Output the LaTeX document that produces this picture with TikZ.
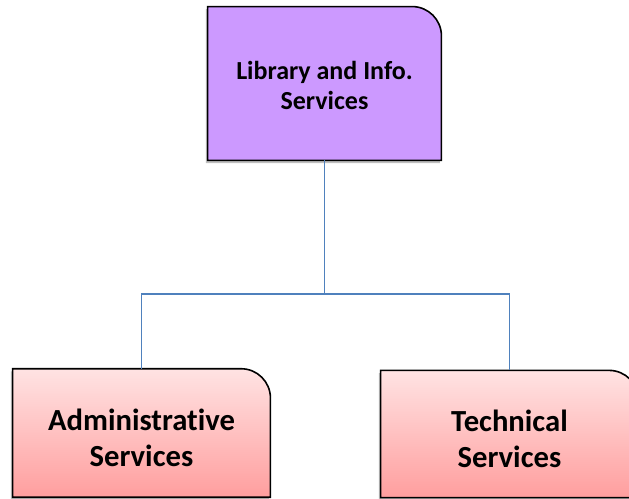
\documentclass[tikz,border=0pt]{standalone}
\usepackage{fontspec}
\setmainfont{Carlito}[Ligatures=NoCommon]
\usetikzlibrary{positioning, calc, backgrounds, shadows}

\definecolor{linkblue}{HTML}{4F81BD}
\definecolor{libfill}{HTML}{CC99FF}
\definecolor{pinktop}{HTML}{FFE3E3}
\definecolor{pinkbot}{HTML}{FF9E9E}

\newcommand{\unitstrut}[1]{\rule{0pt}{#1}}

\tikzset{
  unit/.style={inner sep=0pt, align=center, font=\bfseries},
  unitline/.style={draw=black, line width=1.2pt,
    drop shadow={shadow xshift=-1.2pt, shadow yshift=-2pt, opacity=0.5}},
  link/.style={draw=linkblue, line width=1.1pt}
}

\begin{document}
\begin{tikzpicture}[x=0.75pt, y=-0.75pt]
\useasboundingbox (0,0) rectangle (629,499);

% Library
\node[unit, minimum width=175pt, minimum height=115pt,
  font=\bfseries\fontsize{19.5}{22}\selectfont] (lib) at (324.5,83.5) {\unitstrut{16.5pt}Library and Info.\\Services};

% Administrative
\node[unit, minimum width=193pt, minimum height=96pt,
  font=\bfseries\fontsize{23}{27}\selectfont] (admin) at (141.5,433) {\unitstrut{23.5pt}Administrative\\Services};

% Technical
\node[unit, minimum width=193pt, minimum height=95pt,
  font=\bfseries\fontsize{23}{27}\selectfont] (tech) at (509.5,434) {\unitstrut{23.5pt}Technical\\Services};

\begin{pgfonlayer}{background}
\path[unitline, fill=libfill] (lib.south west) -- (lib.north west)
  [rounded corners=22pt] -- (lib.north east) [sharp corners] -- (lib.south east) -- cycle;
\path[unitline, top color=pinktop, bottom color=pinkbot] (admin.south west) -- (admin.north west)
  [rounded corners=22pt] -- (admin.north east) [sharp corners] -- (admin.south east) -- cycle;
\path[unitline, top color=pinktop, bottom color=pinkbot] (tech.south west) -- (tech.north west)
  [rounded corners=22pt] -- (tech.north east) [sharp corners] -- (tech.south east) -- cycle;
\end{pgfonlayer}

% links
\coordinate (fork) at (324.5,294);
\draw[link] (lib.south) -- (fork) -| (admin.north);
\draw[link] (fork) -| (tech.north);
\end{tikzpicture}
\end{document}
